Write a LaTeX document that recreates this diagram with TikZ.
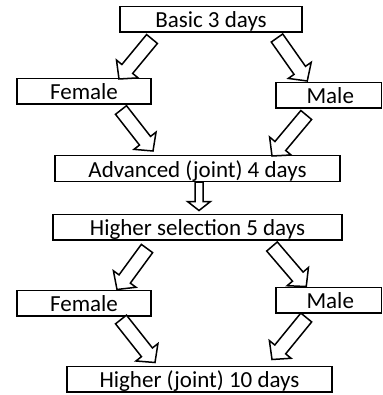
\documentclass[tikz,border=0pt]{standalone}
\usepackage{fontspec}
\setmainfont{Carlito}
\usetikzlibrary{calc}

% outlined block arrow: tail, tip, shaft half width, head half width, head length
\newcommand\blockarrow[5]{%
  \coordinate (ba-h) at ($(#2)!#5!(#1)$);
  \draw[arrowline] ($(#1)!#3!90:(#2)$) -- ($(ba-h)!#3!90:(#2)$)
    -- ($(ba-h)!#4!90:(#2)$) -- (#2) -- ($(ba-h)!#4!-90:(#2)$)
    -- ($(ba-h)!#3!-90:(#2)$) -- ($(#1)!#3!-90:(#2)$) -- cycle;
}

\begin{document}
\begin{tikzpicture}[x=1pt,y=-1pt,
  stage/.style={draw, line width=1.5pt, rectangle, inner sep=0pt,
    minimum height=25.5pt, text height=17pt, text depth=0pt,
    font=\fontsize{23}{27}\selectfont},
  arrowline/.style={draw, line width=1.5pt, line join=miter, fill=white}]
\useasboundingbox (0,0) rectangle (382,395);

\node[stage, minimum width=182pt] (basic) at (211,19.5) {Basic 3 days};
\node[stage, minimum width=134pt] (fem1) at (84,91.5) {Female};
\node[stage, minimum width=105.5pt] (male1) at (328.75,95.5) {\hspace{3pt}Male};
\node[stage, minimum width=285pt] (adv) at (197.5,168.5) {Advanced (joint) 4 days};
\node[stage, minimum width=289pt] (hsel) at (197.5,227) {Higher selection 5 days};
\node[stage, minimum width=134pt] (fem2) at (84,303) {Female};
\node[stage, minimum width=105.5pt] (male2) at (328.75,300) {\hspace{3pt}Male};
\node[stage, minimum width=265pt] (hjoint) at (199.5,379) {Higher (joint) 10 days};

% arrow ends
\coordinate (t1) at ($(basic.south)+(-59,6)$);
\coordinate (p1) at ($(fem1.north)+(35,1)$);
\coordinate (t2) at ($(basic.south)+(66,5)$);
\coordinate (p2) at ($(male1.north west)+(32,-1)$);
\coordinate (t3) at ($(fem1.south)+(37,5)$);
\coordinate (p3) at ($(adv.north)+(-44.5,-4)$);
\coordinate (t4) at ($(male1.south west)+(31,6)$);
\coordinate (p4) at ($(adv.north)+(74.5,1)$);
\coordinate (t5) at ($(adv.south)+(1.5,0)$);
\coordinate (p5) at ($(hsel.north)+(1.5,-3)$);
\coordinate (t6) at ($(hsel.south)+(-50.5,8)$);
\coordinate (p6) at ($(fem2.north)+(33,0)$);
\coordinate (t7) at ($(hsel.south)+(74.5,6)$);
\coordinate (p7) at ($(male2.north west)+(31,0)$);
\coordinate (t8) at ($(fem2.south)+(37,3)$);
\coordinate (p8) at ($(hjoint.north)+(-44.5,-3)$);
\coordinate (t9) at ($(male2.south west)+(31,4)$);
\coordinate (p9) at ($(hjoint.north)+(72.5,-6)$);

\blockarrow{t1}{p1}{7pt}{14pt}{13pt}
\blockarrow{t2}{p2}{7pt}{14pt}{13pt}
\blockarrow{t3}{p3}{7pt}{14pt}{13pt}
\blockarrow{t4}{p4}{7pt}{14pt}{13pt}
\blockarrow{t5}{p5}{4pt}{11.5pt}{9pt}
\blockarrow{t6}{p6}{7pt}{14pt}{13pt}
\blockarrow{t7}{p7}{7pt}{14pt}{13pt}
\blockarrow{t8}{p8}{7pt}{14pt}{13pt}
\blockarrow{t9}{p9}{7pt}{14pt}{13pt}
\end{tikzpicture}
\end{document}
